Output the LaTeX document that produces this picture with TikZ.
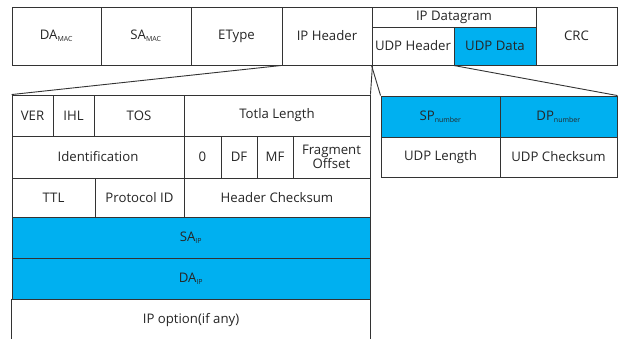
\documentclass[tikz,border=0pt]{standalone}
\usepackage{fontspec}
\setmainfont{Open Sans}
\definecolor{cyanfill}{HTML}{00B0F0}
\definecolor{edge}{HTML}{333333}
\tikzset{
  cell/.style={draw=edge, line width=0.9pt, inner sep=0pt, align=center, font=\fontsize{13.2}{14}\selectfont, text=black!85},
  hl/.style={cell, fill=cyanfill},
  link/.style={draw=edge, line width=0.9pt},
}
\newcommand{\sbs}[1]{\textsubscript{\fontsize{7}{7}\selectfont #1}}
% \cellat{name}{x1}{y1}{x2}{y2}{text}{style}
\newcommand{\cellat}[7]{\node[#7, minimum width={(#4-#2)*1pt}, minimum height={(#5-#3)*1pt}] (#1) at ({(#2+#4)/2},{(#3+#5)/2}) {#6};}
\begin{document}
\begin{tikzpicture}[x=1pt,y=-1pt]
\fill[white] (0,0) rectangle (618,338);
\useasboundingbox (0,0) rectangle (618,338);
% top frame
\cellat{da}{12}{7}{101}{65}{DA\sbs{MAC}}{cell}
\cellat{sa}{101}{7}{191}{65}{SA\sbs{MAC}}{cell}
\cellat{et}{191}{7}{282}{65}{EType}{cell}
\cellat{iph}{282}{7}{372}{65}{IP Header}{cell}
\cellat{ipd}{372}{7}{536}{27}{IP Datagram}{cell}
\cellat{udph}{372}{27}{454}{65}{UDP Header}{cell}
\cellat{udpd}{454}{27}{536}{65}{UDP Data}{hl}
\cellat{crc}{536}{7}{617}{65}{CRC}{cell}
% IP header table
\cellat{ver}{12}{95}{53}{136}{VER}{cell}
\cellat{ihl}{53}{95}{94}{136}{IHL}{cell}
\cellat{tos}{94}{95}{184}{136}{TOS}{cell}
\cellat{tl}{184}{95}{370}{136}{Totla Length}{cell}
\cellat{id}{12}{136}{184}{178}{Identification}{cell}
\cellat{zero}{184}{136}{221}{178}{0}{cell}
\cellat{df}{221}{136}{257}{178}{DF}{cell}
\cellat{mf}{257}{136}{293}{178}{MF}{cell}
\cellat{fo}{293}{136}{370}{178}{Fragment\\Offset}{cell}
\cellat{ttl}{12}{178}{95}{217}{TTL}{cell}
\cellat{pid}{95}{178}{184}{217}{Protocol ID}{cell}
\cellat{hc}{184}{178}{370}{217}{Header Checksum}{cell}
\cellat{saip}{12}{217}{370}{258}{SA\sbs{IP}}{hl}
\cellat{daip}{12}{258}{370}{299}{DA\sbs{IP}}{hl}
\cellat{opt}{12}{299}{370}{341}{IP option(if any)}{cell,draw=none}
\draw[link] (opt.north west) -- (opt.south west);
\draw[link] (opt.north east) -- (opt.south east);
% UDP table
\cellat{sp}{381}{96}{500}{137}{SP\sbs{number}}{hl}
\cellat{dp}{500}{96}{617}{137}{DP\sbs{number}}{hl}
\cellat{ul}{381}{137}{500}{177}{UDP Length}{cell}
\cellat{uc}{500}{137}{617}{177}{UDP Checksum}{cell}
% expansion lines
\draw[link] (iph.south west) -- (ver.north west);
\draw[link] (iph.south east) -- (tl.north east);
\draw[link] (udph.south west) -- (sp.north west);
\draw[link] (udpd.south west) -- (dp.north east);
\end{tikzpicture}
\end{document}
